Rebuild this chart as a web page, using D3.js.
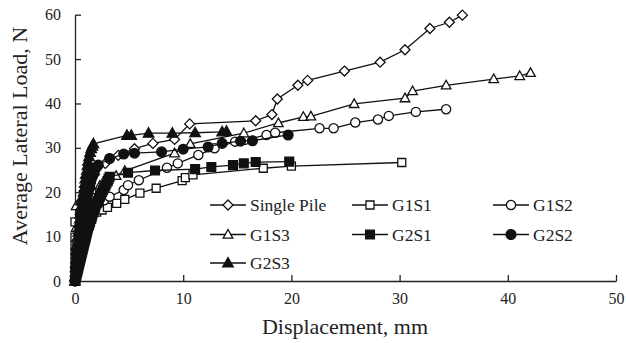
<!DOCTYPE html>
<html>
<head>
<meta charset="utf-8">
<script src="https://cdn.jsdelivr.net/npm/d3@7/dist/d3.min.js"></script>
<style>
  html, body { margin: 0; padding: 0; background: #fff; }
  svg { display: block; }
</style>
</head>
<body>
<svg id="chart" width="626" height="343"></svg>
<script>
// Lateral load vs. displacement, [displacement mm, load N]
const singlePile = [[0,0],[0.05,3],[0.1,6],[0.2,9],[0.35,12],[0.5,15],[0.8,18],[1.2,21],[1.8,24],[2.8,26.5],[4,28.3],[5.5,29.8],[7.2,31],[9.2,31.9],[10.6,35.4],[16.7,36.1],[18.2,37.5],[18.7,41.0],[20.6,44.1],[21.5,45.2],[24.9,47.3],[28.2,49.3],[30.5,52.1],[32.8,56.9],[34.6,58.3],[35.8,59.9]];
const g1s1 = [[0,0],[0,2],[0,4],[0,6],[0,8],[0,9.9],[0,13.3],[0.5,14],[1,14.5],[1.5,15],[2,15.5],[2.5,16],[3,16.6],[3.85,17.5],[4.6,18.4],[6.0,19.8],[7.5,20.9],[9.9,22.6],[10.2,23.3],[10.9,23.9],[17.4,25.4],[20.0,25.9],[30.2,26.7]];
const g1s2 = [[0,0],[0.05,3],[0.1,6],[0.2,9],[0.4,12],[0.7,14],[1.1,15.5],[1.6,16.5],[2.2,17.5],[2.7,18.2],[3.2,19.0],[4.5,20.5],[4.9,21.6],[5.9,22.7],[8.5,25.5],[9.5,26.5],[11.4,28.4],[12.9,29.9],[14.8,31.4],[15.7,31.8],[17.7,32.9],[18.5,33.4],[22.6,34.4],[23.9,34.4],[25.9,35.7],[28.0,36.4],[29.0,37.2],[31.5,38.1],[34.3,38.7]];
const g1s3 = [[0,0],[0.05,4],[0.1,8],[0.1,12],[0.1,16.9],[0.5,18],[1,19.5],[1.6,20.5],[2.3,21.5],[3,22.5],[3.8,23.7],[4.6,24.8],[9.2,28.8],[10.65,30.9],[15.6,33.3],[18.8,35.6],[21.1,37.0],[21.8,37.1],[25.8,39.9],[30.5,41.2],[31.2,42.8],[34.3,44.1],[38.7,45.5],[41.1,46.2],[42.1,46.9]];
const g2s1 = [[0,0],[0.05,0.5],[0.1,1],[0.15,1.5],[0.2,2],[0.25,2.5],[0.3,3],[0.35,3.5],[0.4,4],[0.45,4.5],[0.5,5],[0.55,5.5],[0.6,6],[0.65,6.5],[0.7,7],[0.75,7.5],[0.8,8],[0.85,8.5],[0.9,9],[0.95,9.5],[1.0,10],[1.05,10.5],[1.1,11],[1.15,11.5],[1.2,12],[1.3,12.5],[1.35,13],[1.4,13.5],[1.5,14],[1.55,14.5],[1.6,15],[1.7,15.5],[1.75,16],[1.85,16.5],[1.9,17],[2.0,17.5],[2.1,18],[2.2,18.5],[2.3,19],[2.4,19.5],[2.5,20],[2.6,20.5],[2.7,21],[2.8,21.5],[2.9,22],[3.0,22.5],[3.1,23],[3.2,23.5],[4.9,24.4],[7.4,24.9],[11.1,25.2],[12.6,25.7],[14.6,26.1],[15.6,26.5],[16.7,26.8],[19.8,26.9]];
const g2s2 = [[0,0],[0.05,1],[0.1,2],[0.1,3],[0.15,4],[0.2,5],[0.25,6],[0.3,7],[0.35,8],[0.4,9],[0.45,10],[0.5,11],[0.55,12],[0.6,13],[0.65,13.5],[0.7,14],[0.75,15],[0.8,15.5],[0.85,16],[0.9,17],[0.95,17.5],[1.0,18],[1.05,18.5],[1.1,19],[1.15,19.5],[1.2,20],[1.25,20.5],[1.3,21],[1.35,21.5],[1.4,22],[1.45,22.5],[1.5,23],[1.6,23.5],[1.65,24],[1.75,24.5],[1.8,25],[1.95,25.5],[2.15,26.1],[3.2,27.6],[4.5,28.6],[5.5,28.8],[8.0,29.1],[10.0,29.7],[12.3,30.2],[13.6,31.0],[15.3,31.5],[16.4,31.6],[19.7,32.9]];
const g2s3 = [[0,0],[0,1],[0.05,2],[0.05,3],[0.1,4],[0.1,5],[0.15,6],[0.15,7],[0.2,8],[0.25,9],[0.3,10],[0.3,11],[0.35,12],[0.4,13],[0.45,14],[0.5,15],[0.55,16],[0.6,17],[0.65,18],[0.7,19],[0.8,20],[0.85,21],[0.9,22],[0.95,23],[1.0,24],[1.1,25],[1.15,26],[1.2,27],[1.3,28],[1.4,29],[1.5,29.8],[1.6,30.4],[1.7,30.9],[4.8,32.8],[5.2,32.8],[6.8,33.3],[9.0,33.3],[11.1,33.4],[13.6,33.6],[14.0,33.7]];

const seriesNames = ["Single Pile","G1S1","G1S2","G1S3","G2S1","G2S2","G2S3"];
const seriesValues = [singlePile, g1s1, g1s2, g1s3, g2s1, g2s2, g2s3];
const xTicks = [0,10,20,30,40,50];
const yTicks = [0,10,20,30,40,50,60];

// marker shape and fill per series
const markerShape = ["diamond","square","circle","triangle","square","circle","triangle"];
const markerFilled = [false,false,false,false,true,true,true];

const FONT = '"Liberation Serif", "Times New Roman", Times, serif';
const svg = d3.select("#chart");
const x = d3.scaleLinear().domain([0,50]).range([75,616]);
const y = d3.scaleLinear().domain([0,60]).range([281,14.7]);

function markerPath(shape, filled) {
  const k = filled ? 1.1 : 1;
  if (shape === "diamond") return "M0,-5L5,0L0,5L-5,0Z";
  if (shape === "square") return `M${-4*k},${-4*k}H${4*k}V${4*k}H${-4*k}Z`;
  if (shape === "triangle") return `M0,${-5*k}L${4.8*k},${3.6*k}H${-4.8*k}Z`;
  return null;
}
function drawMarker(g, shape, filled) {
  const fill = filled ? "#111" : "#fff";
  if (shape === "circle") {
    g.append("circle").attr("r", filled ? 4.9 : 4.6).attr("fill", fill).attr("stroke", "#111").attr("stroke-width", 1.3);
  } else {
    g.append("path").attr("d", markerPath(shape, filled)).attr("fill", fill).attr("stroke", "#111").attr("stroke-width", 1.3);
  }
}

// axes
const xAxis = d3.axisBottom(x).tickValues(xTicks).tickSizeInner(-6).tickSizeOuter(0).tickPadding(12);
const yAxis = d3.axisLeft(y).tickValues(yTicks).tickSizeInner(-6).tickSizeOuter(0).tickPadding(14);

const gx = svg.append("g").attr("transform", `translate(0,${y(0)})`).call(xAxis);
const gy = svg.append("g").attr("transform", `translate(${x(0)},0)`).call(yAxis);
[gx, gy].forEach(g => {
  g.selectAll("path, line").attr("stroke", "#222").attr("stroke-width", 1.3);
  g.selectAll("text").style("font-family", FONT).style("font-size", "16px").attr("fill", "#222");
});

// series: line then markers, in legend order
const line = d3.line().x(d => x(d[0])).y(d => y(d[1]));
seriesValues.forEach((vals, i) => {
  svg.append("path").datum(vals).attr("d", line)
    .attr("fill", "none").attr("stroke", "#111").attr("stroke-width", 1.3);
  vals.forEach(d => {
    const g = svg.append("g").attr("transform", `translate(${x(d[0])},${y(d[1])})`);
    drawMarker(g, markerShape[i], markerFilled[i]);
  });
});

// axis titles
svg.append("text").attr("x", 345).attr("y", 334).attr("text-anchor", "middle")
  .style("font-family", FONT).style("font-size", "22px").attr("fill", "#222").text("Displacement, mm");
svg.append("text").attr("transform", "translate(27,136) rotate(-90)").attr("text-anchor", "middle")
  .style("font-family", FONT).style("font-size", "22px").attr("fill", "#222").text("Average Lateral Load, N");

// legend
const legendCols = [210, 352, 493];
const legendRows = [205, 234.5, 263];
seriesNames.forEach((name, i) => {
  const cx = legendCols[i % 3], cy = legendRows[Math.floor(i / 3)];
  const g = svg.append("g").attr("transform", `translate(${cx},${cy})`);
  g.append("line").attr("x1", 0).attr("x2", 36).attr("y1", 0).attr("y2", 0)
    .attr("stroke", "#111").attr("stroke-width", 1.3);
  const m = g.append("g").attr("transform", "translate(18,0)");
  drawMarker(m, markerShape[i], markerFilled[i]);
  g.append("text").attr("x", 40).attr("y", 6)
    .style("font-family", FONT).style("font-size", "17.5px").attr("fill", "#222").text(name);
});
</script>
</body>
</html>
